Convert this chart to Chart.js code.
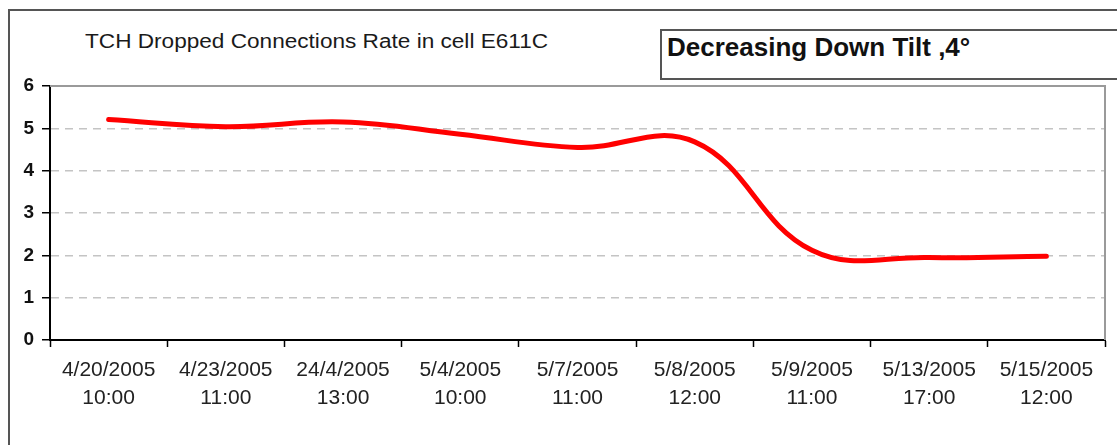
<!DOCTYPE html>
<html>
<head>
<meta charset="utf-8">
<title>TCH Dropped Connections Rate</title>
<script src="https://cdn.jsdelivr.net/npm/chart.js@4.4.0/dist/chart.umd.min.js"></script>
<style>
  html, body { margin: 0; padding: 0; background: #fff; }
  #hoja {
    position: relative;
    width: 1117px;
    height: 445px;
    overflow: hidden;
    font-family: Arial, "Liberation Sans", sans-serif;
  }
  .marco {
    position: absolute;
    left: 8px;
    top: 9px;
    width: 1200px;
    height: 500px;
    border: 2px solid #555;
  }
  .titulo {
    position: absolute;
    left: 85px;
    top: 31px;
    font-size: 20px;
    line-height: 1;
    color: #1a1a1a;
    white-space: nowrap;
    transform: scaleX(1.13);
    transform-origin: left top;
  }
  .nota {
    position: absolute;
    left: 660px;
    top: 29px;
    width: 600px;
    height: 47px;
    border: 2px solid #555;
  }
  .nota-texto {
    position: absolute;
    left: 667px;
    top: 34px;
    font-size: 26px;
    font-weight: bold;
    line-height: 1;
    color: #111;
    white-space: nowrap;
  }
  #caja { position: absolute; left: 0; top: 0; width: 1117px; height: 445px; }
</style>
</head>
<body>
<div id="hoja">
  <div class="marco"></div>
  <div class="titulo">TCH Dropped Connections Rate in cell E611C</div>
  <div class="nota"></div>
  <div class="nota-texto">Decreasing Down Tilt ,4°</div>
  <div id="caja"><canvas id="chartTch"></canvas></div>
</div>
<script>
const fechas = ["4/20/2005", "4/23/2005", "24/4/2005", "5/4/2005", "5/7/2005", "5/8/2005", "5/9/2005", "5/13/2005", "5/15/2005"];
const horas = ["10:00", "11:00", "13:00", "10:00", "11:00", "12:00", "11:00", "17:00", "12:00"];
const tasaCaidas = [5.21, 5.04, 5.15, 4.86, 4.55, 4.68, 2.12, 1.95, 1.98];
const marcasY = [0, 1, 2, 3, 4, 5, 6];

// borde gris arriba y a la derecha del area de trazado
const bordeArea = {
  id: "bordeArea",
  beforeDatasetsDraw(chart) {
    const { ctx, chartArea: a } = chart;
    ctx.save();
    ctx.strokeStyle = "#9a9a9a";
    ctx.lineWidth = 2;
    ctx.beginPath();
    ctx.moveTo(a.left, a.top);
    ctx.lineTo(a.right, a.top);
    ctx.lineTo(a.right, a.bottom);
    ctx.stroke();
    ctx.restore();
  }
};

function init() {
  const canvas = document.getElementById("chartTch");
  window.chartTchRef = new Chart(canvas, {
    type: "line",
    data: {
      labels: fechas.map((f, i) => [f, horas[i]]),
      datasets: [{
        label: "TCH Dropped Connections Rate",
        data: tasaCaidas,
        borderColor: "#ff0000",
        borderWidth: 5,
        borderCapStyle: "round",
        borderJoinStyle: "round",
        tension: 0.4,
        pointRadius: 0,
        fill: false
      }]
    },
    options: {
      responsive: true,
      maintainAspectRatio: false,
      animation: false,
      layout: { padding: { top: 86, right: 12, left: 0, bottom: 0 } },
      plugins: { legend: { display: false }, title: { display: false }, tooltip: { enabled: false } },
      scales: {
        x: {
          type: "category",
          offset: true,
          afterFit: (scale) => { scale.height = 105; },
          grid: { offset: true, drawOnChartArea: false, tickLength: 7, tickColor: "#000", tickWidth: 1.5 },
          border: { color: "#000", width: 2 },
          ticks: {
            autoSkip: false,
            maxRotation: 0,
            padding: 10,
            color: "#222",
            font: { family: "Arial, 'Liberation Sans', sans-serif", size: 21, lineHeight: 1.3 }
          }
        },
        y: {
          min: 0,
          max: 6,
          afterFit: (scale) => { scale.width = 50; },
          afterBuildTicks: (scale) => { scale.ticks = marcasY.map((v) => ({ value: v })); },
          grid: {
            color: (ctx) => (ctx.tick && ctx.tick.value > 0 && ctx.tick.value < 6 ? "#c4c4c4" : "rgba(0,0,0,0)"),
            lineWidth: 1.5,
            tickLength: 8,
            tickColor: "#000",
            tickWidth: 1.5
          },
          border: { color: "#000", width: 2, dash: [8, 6] },
          ticks: {
            padding: 8,
            color: "#111",
            font: { family: "Arial, 'Liberation Sans', sans-serif", size: 19, weight: "bold" }
          }
        }
      }
    },
    plugins: [bordeArea]
  });
}

if (document.readyState === "loading") {
  document.addEventListener("DOMContentLoaded", init);
} else {
  init();
}
</script>
</body>
</html>
